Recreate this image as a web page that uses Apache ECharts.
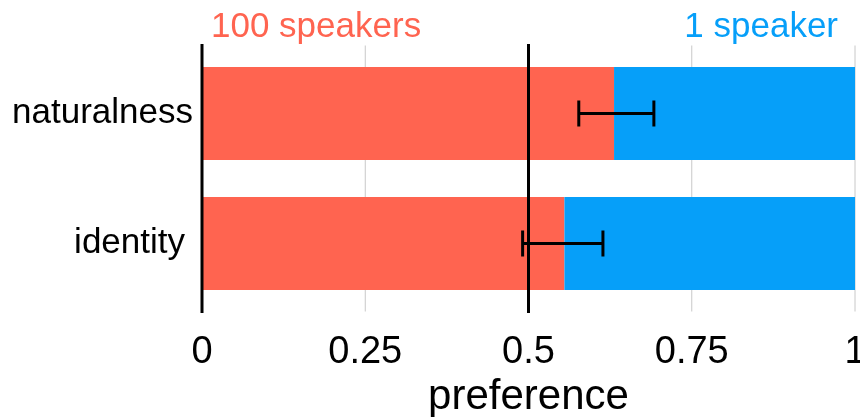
<!DOCTYPE html>
<html>
<head>
<meta charset="utf-8">
<script src="https://cdn.jsdelivr.net/npm/echarts@6/dist/echarts.min.js"></script>
<style>
  html, body { margin: 0; padding: 0; background: #ffffff; }
  #chart { width: 860px; height: 417px; }
</style>
</head>
<body>
<div id="chart"></div>
<script>
// Preference test: share of votes for the 100-speaker model vs. the 1-speaker model
const categories = ['naturalness', 'identity'];
const prefMany = [0.631, 0.555];      // preference for "100 speakers"
const prefOne = [0.369, 0.445];       // remainder, "1 speaker"
const errLow = [0.577, 0.491];        // lower end of the error bar
const errHigh = [0.692, 0.614];       // upper end of the error bar
const tickValues = [0, 0.25, 0.5, 0.75, 1];
const refLines = [0, 0.5];            // solid black reference lines

const RED = '#ff6450';
const BLUE = '#069ff9';
const FONT = '"Liberation Sans", Arial, Helvetica, sans-serif';

const chart = echarts.init(document.getElementById('chart'), null, { renderer: 'canvas' });

// vertical line drawn through the whole plot, poking a little past its edges
function vLine(color, width, overhang) {
  return function (params, api) {
    const x = api.coord([api.value(0), 0])[0];
    const cs = params.coordSys;
    return {
      type: 'line',
      shape: { x1: x, y1: cs.y - overhang, x2: x, y2: cs.y + cs.height + overhang },
      style: { stroke: color, lineWidth: width }
    };
  };
}

const option = {
  backgroundColor: '#ffffff',
  animation: false,
  textStyle: { fontFamily: FONT },
  title: [
    { text: '100 speakers', left: 206, top: 5,
      textStyle: { color: RED, fontSize: 35, fontWeight: 'normal', fontFamily: FONT } },
    { text: '1 speaker', right: 17, top: 5,
      textStyle: { color: BLUE, fontSize: 35, fontWeight: 'normal', fontFamily: FONT } }
  ],
  grid: { left: 202, right: 5, top: 48.5, height: 260, outerBoundsMode: 'none', containLabel: false },
  xAxis: {
    type: 'value', min: 0, max: 1, interval: 0.25,
    axisLine: { show: false }, axisTick: { show: false }, splitLine: { show: false },
    axisLabel: {
      color: '#000', fontSize: 38, fontFamily: FONT, margin: 25,
      formatter: v => String(v)
    },
    name: 'preference', nameLocation: 'middle', nameGap: 68,
    nameTextStyle: { color: '#000', fontSize: 42, fontFamily: FONT }
  },
  yAxis: {
    type: 'category', data: categories, inverse: true,
    axisLine: { show: false }, axisTick: { show: false },
    axisLabel: {
      color: '#000', fontSize: 35, fontFamily: FONT, margin: 9,
      formatter: v => v === 'identity' ? '{pad|' + v + '}' : v,
      rich: { pad: { color: '#000', fontSize: 35, fontFamily: FONT, padding: [0, 8, 0, 0] } }
    }
  },
  series: [
    {
      type: 'custom', name: 'grid', z: 1, clip: false, silent: true,
      encode: { x: 0 },
      data: tickValues.filter(v => refLines.indexOf(v) < 0).map(v => [v]),
      renderItem: vLine('#c8c8c8', 1, 3)
    },
    {
      type: 'bar', name: '100 speakers', stack: 'pref', barWidth: 93, z: 2,
      itemStyle: { color: RED }, data: prefMany
    },
    {
      type: 'bar', name: '1 speaker', stack: 'pref', barWidth: 93, z: 2,
      itemStyle: { color: BLUE }, data: prefOne
    },
    {
      type: 'custom', name: 'reference', z: 5, clip: false, silent: true,
      encode: { x: 0 },
      data: refLines.map(v => [v]),
      renderItem: vLine('#000000', 3, 4.5)
    },
    {
      type: 'custom', name: 'error', z: 6, clip: false, silent: true,
      encode: { x: [0, 1], y: 2 },
      data: categories.map((c, i) => [errLow[i], errHigh[i], i]),
      renderItem: function (params, api) {
        const cat = api.value(2);
        const a = api.coord([api.value(0), cat]);
        const b = api.coord([api.value(1), cat]);
        const h = 13;
        const st = { stroke: '#000', lineWidth: 3 };
        return {
          type: 'group',
          children: [
            { type: 'line', shape: { x1: a[0], y1: a[1], x2: b[0], y2: b[1] }, style: st },
            { type: 'line', shape: { x1: a[0], y1: a[1] - h, x2: a[0], y2: a[1] + h }, style: st },
            { type: 'line', shape: { x1: b[0], y1: b[1] - h, x2: b[0], y2: b[1] + h }, style: st }
          ]
        };
      }
    }
  ]
};

chart.setOption(option);
</script>
</body>
</html>
